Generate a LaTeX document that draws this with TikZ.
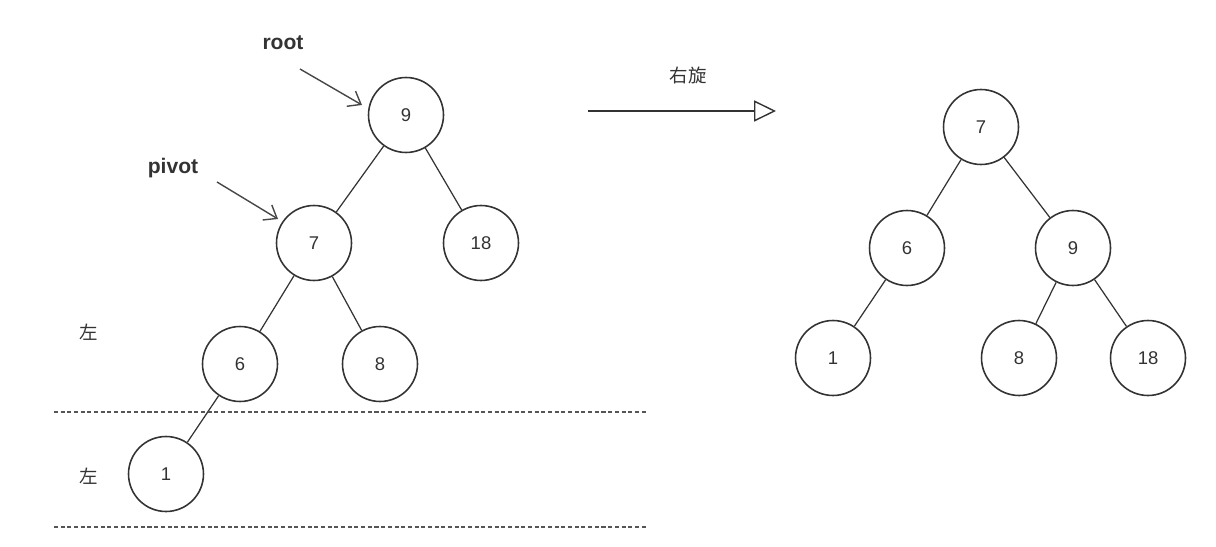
\documentclass[tikz,border=0pt]{standalone}
\usepackage{fontspec}
\setmainfont{Liberation Sans}
\newfontfamily\cjk{Noto Sans CJK SC}
\usetikzlibrary{arrows.meta}
\definecolor{ink}{HTML}{333333}
\definecolor{dashink}{HTML}{555555}
\tikzset{
  tnode/.style={circle,draw=ink,line width=0.9pt,minimum size=1.5cm,inner sep=0pt,font=\fontsize{10.5}{12}\selectfont,text=ink},
  edge/.style={draw=ink,line width=0.7pt},
  pointer/.style={draw=ink!90,line width=0.8pt,-{Straight Barb[length=6.5pt,width=10pt,line width=0.8pt]}},
  lbl/.style={font=\fontsize{12}{14}\bfseries,text=ink},
  cjklbl/.style={font=\cjk\fontsize{10.5}{12}\selectfont,text=ink},
  sep/.style={draw=dashink,line width=0.7pt,dash pattern=on 2.3pt off 1.5pt}
}
\begin{document}
\begin{tikzpicture}[x=0.02cm,y=-0.02cm]
\useasboundingbox (0,0) rectangle (1216,547);
% left tree
\node[tnode] (l9) at (406,115) {9};
\node[tnode] (l7) at (314,243) {7};
\node[tnode] (l18) at (481,243) {18};
\node[tnode] (l6) at (240,364) {6};
\node[tnode] (l8) at (380,364) {8};
\node[tnode] (l1) at (166,474) {1};
\draw[edge] (l9) -- (l7);
\draw[edge] (l9) -- (l18);
\draw[edge] (l7) -- (l6);
\draw[edge] (l7) -- (l8);
\draw[edge] (l6) -- (l1);
% labels and pointers
\node[lbl] (root) at (283,43) {root};
\node[lbl] (pivot) at (173,168) {pivot};
\coordinate (rs) at (300,69);
\coordinate (re) at (362,105);
\coordinate (ps) at (217,182);
\coordinate (pe) at (278,219);
\draw[pointer] (rs) -- (re);
\draw[pointer] (ps) -- (pe);
\node[cjklbl] (z1) at (89,332) {左};
\node[cjklbl] (z2) at (89,476) {左};
% dashed separators
\coordinate (d1a) at (54,412);
\coordinate (d1b) at (647,412);
\coordinate (d2a) at (54,527);
\coordinate (d2b) at (647,527);
\draw[sep] (d1a) -- (d1b);
\draw[sep] (d2a) -- (d2b);
% rotation arrow
\coordinate (aa) at (588,111);
\coordinate (ab) at (776,111);
\draw[draw=ink,line width=0.8pt,-{Triangle[open,length=12.5pt,width=12pt,line width=0.8pt]}] (aa) -- (ab);
\node[cjklbl] (rot) at (688,75) {右旋};
% right tree
\node[tnode] (r7) at (981,127) {7};
\node[tnode] (r6) at (907,248) {6};
\node[tnode] (r9) at (1073,248) {9};
\node[tnode] (r1) at (833,358) {1};
\node[tnode] (r8) at (1019,358) {8};
\node[tnode] (r18) at (1148,358) {18};
\draw[edge] (r7) -- (r6);
\draw[edge] (r7) -- (r9);
\draw[edge] (r6) -- (r1);
\draw[edge] (r9) -- (r8);
\draw[edge] (r9) -- (r18);
\end{tikzpicture}
\end{document}
